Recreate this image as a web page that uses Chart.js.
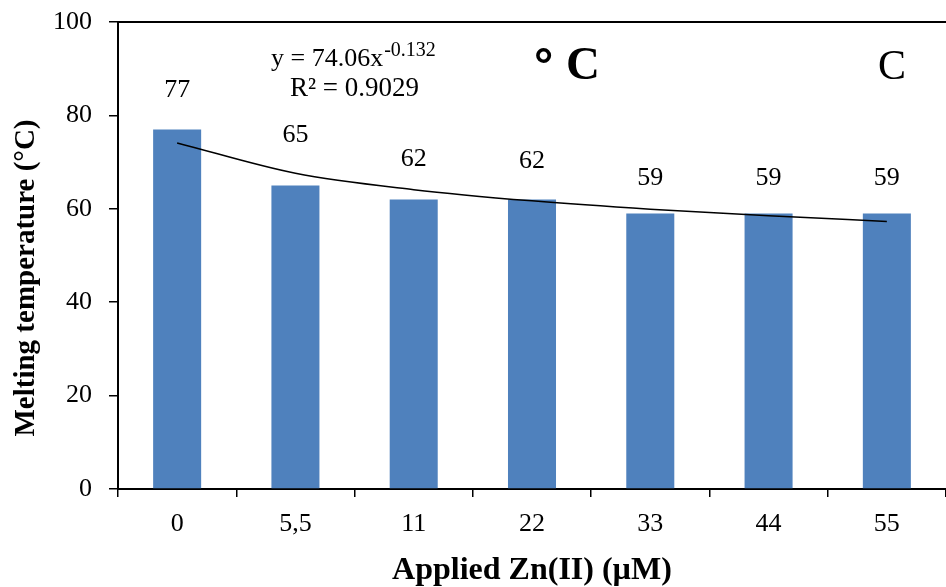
<!DOCTYPE html>
<html>
<head>
<meta charset="utf-8">
<title>Melting temperature vs applied Zn(II)</title>
<script src="https://cdn.jsdelivr.net/npm/chart.js"></script>
<style>
  html, body { margin: 0; padding: 0; background: #fff; }
  #wrap { width: 946px; height: 587px; }
</style>
</head>
<body>
<div id="wrap"><canvas id="tmChart"></canvas></div>
<script>
// values
const categories = ['0', '5,5', '11', '22', '33', '44', '55'];
const meltTemp = [77, 65, 62, 62, 59, 59, 59];
// power trendline as it appears on the picture (y = 74.06x^-0.132)
const trendVals = [74.1, 67.6, 64.1, 61.7, 59.9, 58.5, 57.3];
const yTicks = [0, 20, 40, 60, 80, 100];

const serif = "'Liberation Serif', 'Times New Roman', serif";

// text that sits on top of the plot: labels, equation, y title, stray "° C" / "C"
const overlay = {
  id: 'overlay',
  afterDatasetsDraw(chart, args, opts) {
    const { ctx, chartArea } = chart;
    ctx.save();

    // top frame line
    ctx.strokeStyle = '#000';
    ctx.lineWidth = 2;
    ctx.beginPath();
    ctx.moveTo(chartArea.left, chartArea.top);
    ctx.lineTo(chart.width, chartArea.top);
    ctx.stroke();

    // value labels above bars (bar dataset is index 0)
    const meta = chart.getDatasetMeta(0);
    ctx.fillStyle = '#000';
    ctx.font = '26px ' + serif;
    ctx.textAlign = 'center';
    ctx.textBaseline = 'middle';
    meta.data.forEach((bar, i) => {
      ctx.fillText(String(meltTemp[i]), bar.x, bar.y - opts.lift[i]);
    });

    // y axis title, sits a bit below the plot centre in the original
    ctx.save();
    ctx.translate(27, 278);
    ctx.rotate(-Math.PI / 2);
    ctx.font = 'bold 29px ' + serif;
    ctx.fillText('Melting temperature (°C)', 0, 0);
    ctx.restore();

    // trendline equation
    ctx.textAlign = 'left';
    ctx.textBaseline = 'alphabetic';
    ctx.font = '26px ' + serif;
    const eq = 'y = 74.06x';
    ctx.fillText(eq, 271, 66);
    const w = ctx.measureText(eq).width;
    ctx.font = '20px ' + serif;
    ctx.fillText('-0.132', 271 + w + 1, 56);
    ctx.font = '27px ' + serif;
    ctx.fillText('R² = 0.9029', 290, 96);

    // "° C" and "C"
    ctx.font = "bold 48px 'Liberation Sans', Arial, sans-serif";
    ctx.fillText('°', 534, 82);
    ctx.font = 'bold 47px ' + serif;
    ctx.fillText('C', 566, 79);
    ctx.font = '42px ' + serif;
    ctx.fillText('C', 878, 79);

    ctx.restore();
  }
};

new Chart(document.getElementById('tmChart'), {
  data: {
    labels: categories,
    datasets: [
      {
        type: 'bar',
        label: 'Melting temperature',
        data: meltTemp,
        backgroundColor: '#4F81BD',
        barPercentage: 0.406,
        categoryPercentage: 1,
        order: 1
      },
      {
        type: 'line',
        label: 'Power trend',
        data: trendVals,
        borderColor: '#000',
        borderWidth: 1.5,
        pointRadius: 0,
        cubicInterpolationMode: 'monotone',
        order: 0
      }
    ]
  },
  options: {
    responsive: true,
    maintainAspectRatio: false,
    animation: false,
    layout: { padding: { top: 22, right: 0, left: 0, bottom: 0 } },
    plugins: {
      legend: { display: false },
      tooltip: { enabled: false },
      overlay: { lift: [39, 50, 40, 38, 35, 35, 35] }
    },
    scales: {
      x: {
        offset: true,
        afterFit: s => { s.height = 98; s.paddingLeft = 0; s.paddingRight = 0; },
        grid: {
          offset: true,
          drawOnChartArea: false,
          drawTicks: true,
          tickLength: 8,
          color: '#000',
          lineWidth: 1.5
        },
        border: { display: true, color: '#000', width: 2 },
        ticks: { color: '#000', padding: 12, font: { family: serif, size: 26 } },
        title: {
          display: true,
          text: 'Applied Zn(II) (µM)',
          color: '#000',
          font: { family: serif, size: 32, weight: 'bold', lineHeight: 1 },
          padding: { top: 2, bottom: 0 }
        }
      },
      y: {
        min: 0,
        max: 100,
        afterFit: s => { s.width = 118; s.paddingTop = 0; s.paddingBottom = 0; },
        afterBuildTicks: s => { s.ticks = yTicks.map(v => ({ value: v })); },
        grid: {
          drawOnChartArea: false,
          drawTicks: true,
          tickLength: 9,
          color: '#000',
          lineWidth: 1.5
        },
        border: { display: true, color: '#000', width: 2 },
        ticks: { color: '#000', padding: 17, font: { family: serif, size: 26 } }
      }
    }
  },
  plugins: [overlay]
});
</script>
</body>
</html>
